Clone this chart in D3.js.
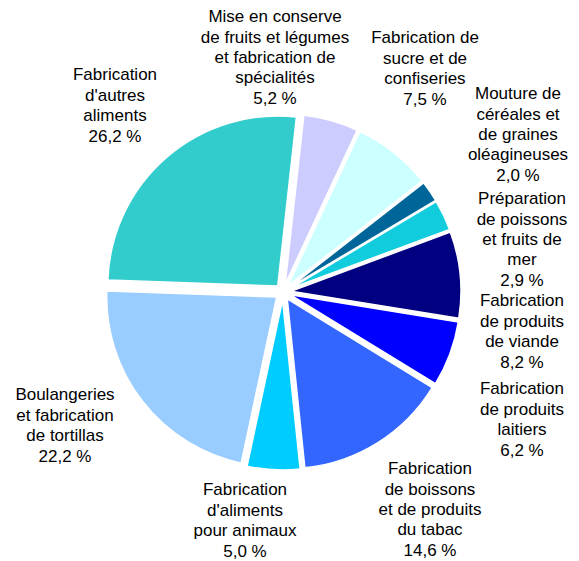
<!DOCTYPE html>
<html>
<head>
<meta charset="utf-8">
<script src="https://cdn.jsdelivr.net/npm/d3@7"></script>
<style>
	body { margin: 0; background: #fff; }
	text { font-family: "Liberation Sans", Arial, sans-serif; font-size: 17px; fill: #000; }
</style>
</head>
<body>
<svg id="plot" width="579" height="561"></svg>
<script>

// slices clockwise, first one starting just right of 12 o'clock
const CATEGORIES = [
	["Mise en conserve", "de fruits et légumes", "et fabrication de", "spécialités"],
	["Fabrication de", "sucre et de", "confiseries"],
	["Mouture de", "céréales et", "de graines", "oléagineuses"],
	["Préparation", "de poissons", "et fruits de", "mer"],
	["Fabrication", "de produits", "de viande"],
	["Fabrication", "de produits", "laitiers"],
	["Fabrication", "de boissons", "et de produits", "du tabac"],
	["Fabrication", "d'aliments", "pour animaux"],
	["Boulangeries", "et fabrication", "de tortillas"],
	["Fabrication", "d'autres", "aliments"]
];
const SHARES = [5.2, 7.5, 2.0, 2.9, 8.2, 6.2, 14.6, 5.0, 22.2, 26.2];
const COLORS = ["#ccccff", "#ccffff", "#006699", "#11ccdd", "#000080",
	"#0000ff", "#3366ff", "#00ccff", "#99ccff", "#33cccc"];

// label block centres, offset from the pie centre (placed by hand in the original)
const LABEL_OFFSETS = [[-8, -235], [142, -224], [235, -158], [239, -53], [239, 39],
	[239, 127], [147, 217], [-38, 228], [-218, 133], [-168, -187]];

const CX = 283, CY = 292, RADIUS = 170, EXPLODE = 8, LINE_H = 20.4;
const START = 6.3 * Math.PI / 180;

const fmt = v => d3.format(".1f")(v).replace(".", ",") + " %";

function drawPie() {
	const svg = d3.select("#plot");
	const g = svg.append("g").attr("transform", `translate(${CX},${CY})`);

	const pie = d3.pie().sort(null).value(d => d.value)
		.startAngle(START).endAngle(START + 2 * Math.PI);
	const arc = d3.arc().innerRadius(0).outerRadius(RADIUS);

	const data = SHARES.map((v, i) => ({ value: v, lines: CATEGORIES[i], color: COLORS[i], off: LABEL_OFFSETS[i] }));
	const arcs = pie(data);

	g.selectAll("path")
		.data(arcs)
		.enter().append("path")
		.attr("transform", d => {
			const p = d3.pointRadial((d.startAngle + d.endAngle) / 2, EXPLODE);
			return `translate(${p[0]},${p[1]})`;
		})
		.attr("d", arc)
		.attr("fill", d => d.data.color)
		.attr("stroke", "#fff")
		.attr("stroke-width", 1.5)
		.attr("stroke-linejoin", "round");

	// labels
	const labels = g.selectAll("text.lab")
		.data(arcs)
		.enter().append("text")
		.attr("class", "lab")
		.attr("text-anchor", "middle");

	labels.each(function(d) {
		const lines = d.data.lines.concat([fmt(d.data.value)]);
		const n = lines.length;
		d3.select(this).selectAll("tspan")
			.data(lines)
			.enter().append("tspan")
			.attr("x", d.data.off[0])
			.attr("y", (l, i) => d.data.off[1] + (i - (n - 1) / 2) * LINE_H)
			.attr("dy", "0.35em")
			.text(l => l);
	});
}

drawPie();
</script>
</body>
</html>
